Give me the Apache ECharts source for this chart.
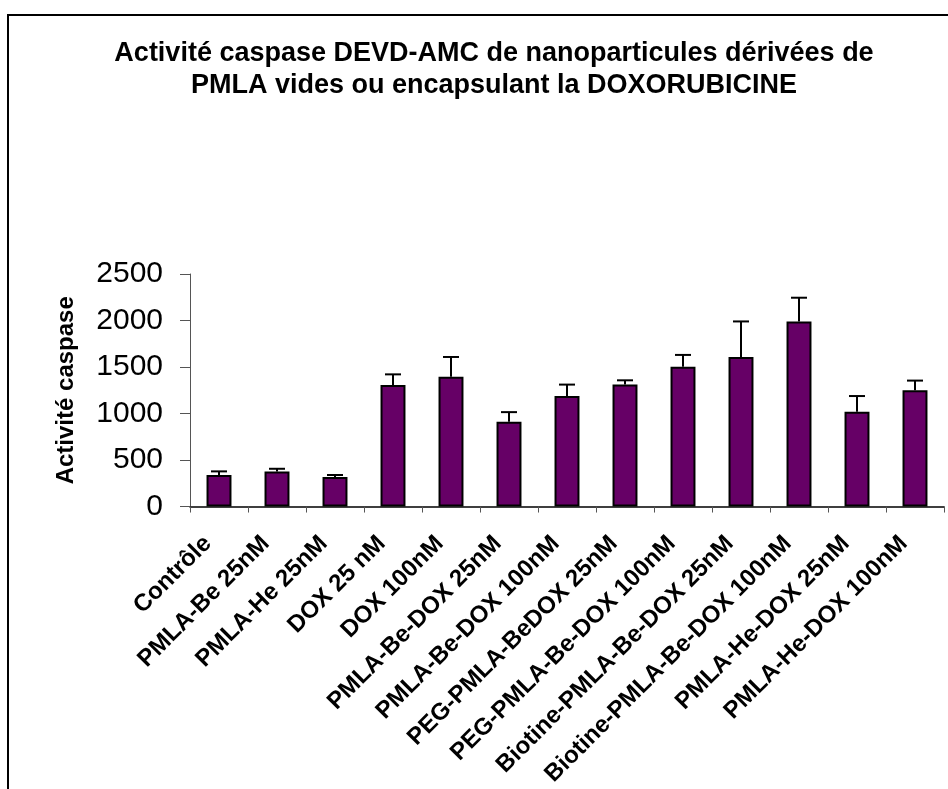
<!DOCTYPE html>
<html>
<head>
<meta charset="utf-8">
<script src="https://cdn.jsdelivr.net/npm/echarts@6/dist/echarts.min.js"></script>
<style>html,body{margin:0;padding:0;background:#fff;}#c{width:948px;height:789px;}</style>
</head>
<body>
<div id="c"></div>
<script>
const categories = ['Contrôle','PMLA-Be 25nM','PMLA-He 25nM','DOX 25 nM','DOX 100nM','PMLA-Be-DOX 25nM','PMLA-Be-DOX 100nM','PEG-PMLA-BeDOX 25nM','PEG-PMLA-Be-DOX 100nM','Biotine-PMLA-Be-DOX 25nM','Biotine-PMLA-Be-DOX 100nM','PMLA-He-DOX 25nM','PMLA-He-DOX 100nM'];
const meanValues = [339, 378, 318, 1307, 1396, 912, 1188, 1311, 1502, 1608, 1990, 1018, 1251];
const errorValues = [39, 28, 21, 114, 212, 103, 123, 46, 128, 382, 255, 170, 103];
const yTicks = [0, 500, 1000, 1500, 2000, 2500];

const FONT = "'Liberation Sans', Arial, sans-serif";
const chart = echarts.init(document.getElementById('c'), null, {renderer: 'canvas'});
chart.setOption({
  animation: false,
  backgroundColor: '#ffffff',
  graphic: [{
    type: 'rect', z: -1, silent: true,
    shape: {x: 8, y: 15, width: 1000, height: 900},
    style: {fill: 'none', stroke: '#000', lineWidth: 2}
  }],
  title: {
    text: 'Activité caspase DEVD-AMC de nanoparticules dérivées de\nPMLA vides ou encapsulant la DOXORUBICINE',
    left: 489, textAlign: 'center', top: 33,
    textStyle: {fontFamily: FONT, fontWeight: 'bold', fontSize: 27, lineHeight: 32, color: '#000'}
  },
  grid: {left: 190, right: 4, top: 274, bottom: 279, containLabel: false},
  xAxis: {
    type: 'category', data: categories,
    axisLine: {lineStyle: {color: '#000', width: 1.5}},
    axisTick: {show: true, length: 6, lineStyle: {color: '#555'}},
    axisLabel: {rotate: 45, interval: 0, margin: 22, padding: [0, 16, 0, 0], fontFamily: FONT, fontWeight: 'bold', fontSize: 24, color: '#000'}
  },
  yAxis: {
    type: 'value', min: yTicks[0], max: yTicks[yTicks.length - 1], interval: 500,
    name: 'Activité caspase', nameLocation: 'middle', nameGap: 112,
    nameTextStyle: {fontFamily: FONT, fontWeight: 'bold', fontSize: 24, color: '#000'},
    axisLine: {show: true, lineStyle: {color: '#555', width: 1}},
    axisTick: {show: true, length: 10, lineStyle: {color: '#555'}},
    axisLabel: {margin: 27, fontFamily: FONT, fontSize: 30, color: '#000', formatter: v => String(v)},
    splitLine: {show: false}
  },
  series: [{
    type: 'bar', data: meanValues, barWidth: '43%',
    itemStyle: {color: '#660066', borderColor: '#000', borderWidth: 2}
  }, {
    type: 'custom',
    data: meanValues.map((v, i) => [i, v, v + errorValues[i]]),
    renderItem: function (params, api) {
      const base = api.coord([api.value(0), api.value(1)]);
      const top = api.coord([api.value(0), api.value(2)]);
      const half = 8;
      return {
        type: 'group',
        children: [
          {type: 'line', shape: {x1: base[0], y1: base[1], x2: top[0], y2: top[1]}, style: {stroke: '#000', lineWidth: 2}},
          {type: 'line', shape: {x1: top[0] - half, y1: top[1], x2: top[0] + half, y2: top[1]}, style: {stroke: '#000', lineWidth: 2}}
        ]
      };
    },
    z: 3
  }]
});
</script>
</body>
</html>
